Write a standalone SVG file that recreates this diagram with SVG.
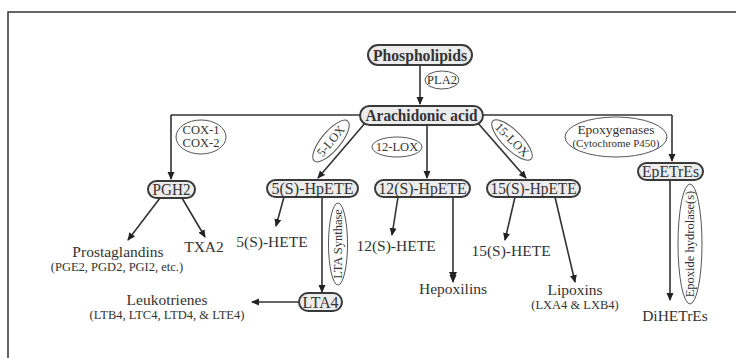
<svg xmlns="http://www.w3.org/2000/svg" width="736" height="358" viewBox="0 0 736 358">
<defs>
<style>
text{font-family:"Liberation Serif","Times New Roman",serif;fill:#333;text-anchor:middle}
.box{fill:#ececec;stroke:#3a3a3a;stroke-width:2}
.bl{font-size:16px}
.lbl{font-size:15.5px}
.b{font-weight:bold}
.sub{font-size:12.5px}
.ell{fill:#fff;stroke:#555;stroke-width:1}
.et{font-size:12.5px}
.ln{fill:none;stroke:#333;stroke-width:1.6}
.frame{fill:none;stroke:#333;stroke-width:1.5}
</style>
<marker id="ah" markerWidth="8" markerHeight="8" refX="7" refY="4" orient="auto" markerUnits="userSpaceOnUse">
<path d="M0,0.5 L8,4 L0,7.5 Z" fill="#222"/>
</marker>
</defs>
<rect width="736" height="358" fill="#fff"/>
<path class="frame" d="M8,358 V12 H736"/>

<g id="connectors">
<line class="ln" x1="420" y1="65" x2="420" y2="104" marker-end="url(#ah)"/>
<path class="ln" d="M171,115 H672"/>
<line class="ln" x1="171" y1="115" x2="171" y2="179" marker-end="url(#ah)"/>
<line class="ln" x1="672" y1="115" x2="672" y2="161" marker-end="url(#ah)"/>
<line class="ln" x1="366" y1="122" x2="318" y2="178" marker-end="url(#ah)"/>
<line class="ln" x1="427" y1="125" x2="427" y2="178" marker-end="url(#ah)"/>
<line class="ln" x1="477" y1="122" x2="526" y2="178" marker-end="url(#ah)"/>
<line class="ln" x1="160" y1="198" x2="128" y2="240" marker-end="url(#ah)"/>
<line class="ln" x1="182" y1="198" x2="205" y2="237" marker-end="url(#ah)"/>
<line class="ln" x1="284" y1="197" x2="276" y2="226" marker-end="url(#ah)"/>
<line class="ln" x1="322" y1="197" x2="322" y2="292" marker-end="url(#ah)"/>
<line class="ln" x1="299" y1="302" x2="252" y2="302" marker-end="url(#ah)"/>
<line class="ln" x1="398" y1="197" x2="392" y2="235" marker-end="url(#ah)"/>
<line class="ln" x1="453" y1="197" x2="453" y2="282" marker-end="url(#ah)"/>
<path d="M449,272 L457,272 L453,280 Z" fill="#222"/>
<line class="ln" x1="515" y1="197" x2="505" y2="240" marker-end="url(#ah)"/>
<line class="ln" x1="555" y1="197" x2="575" y2="282" marker-end="url(#ah)"/>
<line class="ln" x1="670" y1="180" x2="670" y2="300" marker-end="url(#ah)"/>
</g>

<g id="pla2"><ellipse class="ell" cx="442" cy="80" rx="17" ry="9"/><text class="et" x="442" y="84">PLA2</text></g>
<g id="cox"><ellipse class="ell" cx="201" cy="137" rx="25" ry="17"/><text class="et" x="201" y="134">COX-1</text><text class="et" x="201" y="147">COX-2</text></g>
<g id="lox5" transform="translate(331,141) rotate(-50)"><ellipse class="ell" cx="0" cy="0" rx="26" ry="9.5"/><text class="et" x="0" y="4">5-LOX</text></g>
<g id="lox12"><ellipse class="ell" cx="397" cy="147" rx="25" ry="10"/><text class="et" x="397" y="151">12-LOX</text></g>
<g id="lox15" transform="translate(512,140) rotate(45)"><ellipse class="ell" cx="0" cy="0" rx="27" ry="9.5"/><text class="et" x="0" y="4">15-LOX</text></g>
<g id="epoxygenase"><ellipse class="ell" cx="616" cy="137" rx="51" ry="20"/><text x="616" y="134" style="font-size:13.5px">Epoxygenases</text><text x="616" y="147" style="font-size:11px">(Cytochrome P450)</text></g>
<g id="ltasynthase" transform="translate(338,244) rotate(-90)"><ellipse class="ell" cx="0" cy="0" rx="41" ry="9.5"/><text class="et" x="0" y="4">LTA Synthase</text></g>
<g id="epoxidehydrolase" transform="translate(690,244) rotate(-90)"><ellipse class="ell" cx="0" cy="0" rx="60" ry="12"/><text class="et" x="0" y="4">Epoxide hydrolase(s)</text></g>

<g id="phospholipids"><rect class="box" x="368" y="45" width="104" height="20" rx="10"/><text class="bl b" x="420" y="60.5" textLength="94" lengthAdjust="spacingAndGlyphs">Phospholipids</text></g>
<g id="arachidonic"><rect class="box" x="360" y="106" width="123" height="19" rx="9.5"/><text class="bl b" x="421.5" y="121" textLength="112" lengthAdjust="spacingAndGlyphs">Arachidonic acid</text></g>
<g id="pgh2"><rect class="box" x="148" y="181" width="47" height="17" rx="8.5"/><text class="bl" x="171.5" y="195" textLength="38" lengthAdjust="spacingAndGlyphs">PGH2</text></g>
<g id="hpete5"><rect class="box" x="267" y="180" width="91" height="17" rx="8.5"/><text class="bl" x="312.5" y="194" textLength="82" lengthAdjust="spacingAndGlyphs">5(S)-HpETE</text></g>
<g id="hpete12"><rect class="box" x="375" y="180" width="95" height="17" rx="8.5"/><text class="bl" x="422.5" y="194" textLength="88" lengthAdjust="spacingAndGlyphs">12(S)-HpETE</text></g>
<g id="hpete15"><rect class="box" x="487" y="180" width="93" height="17" rx="8.5"/><text class="bl" x="533.5" y="194" textLength="86" lengthAdjust="spacingAndGlyphs">15(S)-HpETE</text></g>
<g id="epetre"><rect class="box" x="638" y="163" width="65" height="17" rx="8.5"/><text class="bl" x="670.5" y="177" textLength="57" lengthAdjust="spacingAndGlyphs">EpETrEs</text></g>
<g id="lta4"><rect class="box" x="299" y="293" width="43" height="18" rx="9"/><text class="bl" x="320.5" y="307.5" textLength="36" lengthAdjust="spacingAndGlyphs">LTA4</text></g>

<g id="prostaglandins"><text class="lbl" x="118" y="257">Prostaglandins</text><text class="sub" x="117" y="271">(PGE2, PGD2, PGI2, etc.)</text></g>
<g id="txa2"><text class="lbl" x="204" y="252">TXA2</text></g>
<g id="hete5"><text class="lbl" x="272" y="247">5(S)-HETE</text></g>
<g id="leukotrienes"><text class="lbl" x="167" y="305">Leukotrienes</text><text class="sub" x="167" y="319">(LTB4, LTC4, LTD4, &amp; LTE4)</text></g>
<g id="hete12"><text class="lbl" x="396" y="251">12(S)-HETE</text></g>
<g id="hepoxilins"><text class="lbl" x="453" y="294">Hepoxilins</text></g>
<g id="hete15"><text class="lbl" x="511" y="256">15(S)-HETE</text></g>
<g id="lipoxins"><text class="lbl" x="575" y="295">Lipoxins</text><text class="sub" x="575" y="309">(LXA4 &amp; LXB4)</text></g>
<g id="dihetre"><text class="lbl" x="675" y="321">DiHETrEs</text></g>
</svg>
